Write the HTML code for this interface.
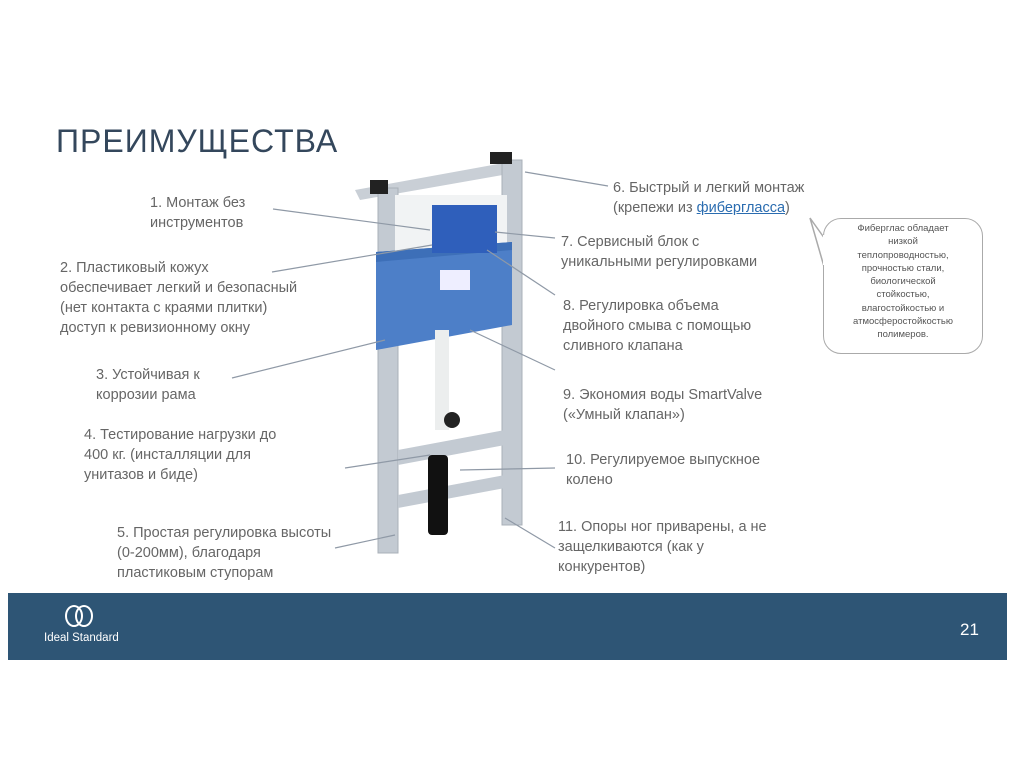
<!DOCTYPE html>
<html><head><meta charset="utf-8"><style>
body{margin:0;width:1015px;height:761px;background:#fff;position:relative;overflow:hidden;font-family:"Liberation Sans","Noto Sans CJK SC",sans-serif;}
.t{position:absolute;color:#666;font-size:14.5px;line-height:20px;white-space:nowrap;}
.bub{position:absolute;left:823px;top:218px;width:160px;height:136px;border:1.5px solid #aaa;border-radius:18px;box-sizing:border-box;font-size:9.5px;line-height:13.3px;color:#555;text-align:center;padding-top:3px;background:#fff;}
</style></head><body>
<div style="position:absolute;left:56px;top:123px;font-size:32px;color:#34475c;letter-spacing:1px;">ПРЕИМУЩЕСТВА</div>

<svg width="1015" height="761" style="position:absolute;left:0;top:0">
<g>
<polygon points="355,190 520,160 520,172 360,200" fill="#c9cfd6"/>
<rect x="378" y="188" width="20" height="365" fill="#c3cad2" stroke="#a9b0b8"/>
<rect x="502" y="160" width="20" height="365" fill="#c3cad2" stroke="#a9b0b8"/>
<rect x="395" y="195" width="112" height="60" fill="#f1f3f4"/>
<polygon points="376,252 512,242 512,325 376,350" fill="#4d7fc8"/>
<polygon points="376,252 512,242 512,250 376,262" fill="#3d6fb8"/>
<rect x="432" y="205" width="65" height="48" fill="#2f5fbb"/>
<rect x="440" y="270" width="30" height="20" fill="#eef"/>
<rect x="435" y="330" width="14" height="100" fill="#eceeee"/>
<polygon points="398,450 505,430 505,445 398,465" fill="#c3cad2"/>
<polygon points="398,495 505,475 505,488 398,508" fill="#c3cad2"/>
<rect x="428" y="455" width="20" height="80" rx="4" fill="#111"/>
<circle cx="452" cy="420" r="8" fill="#222"/>
<rect x="370" y="180" width="18" height="14" fill="#222"/>
<rect x="490" y="152" width="22" height="12" fill="#222"/>
</g>
<g stroke="#8f99a6" stroke-width="1.2" fill="none">
<line x1="273" y1="209" x2="430" y2="230"/>
<line x1="272" y1="272" x2="432" y2="245"/>
<line x1="232" y1="378" x2="385" y2="340"/>
<line x1="345" y1="468" x2="430" y2="455"/>
<line x1="335" y1="548" x2="395" y2="535"/>
<line x1="525" y1="172" x2="608" y2="186"/>
<line x1="495" y1="232" x2="555" y2="238"/>
<line x1="487" y1="250" x2="555" y2="295"/>
<line x1="470" y1="330" x2="555" y2="370"/>
<line x1="460" y1="470" x2="555" y2="468"/>
<line x1="505" y1="518" x2="555" y2="548"/>
</g>
<path d="M810,218 L830,246 L825,270 Z" fill="#fff" stroke="#aaa" stroke-width="1.5"/>
</svg>
<div class="bub">Фиберглас обладает<br>низкой<br>теплопроводностью,<br>прочностью стали,<br>биологической<br>стойкостью,<br>влагостойкостью и<br>атмосферостойкостью<br>полимеров.</div>
<div style="position:absolute;left:823px;top:235px;width:3px;height:30px;background:#fff"></div>

<div class="t" style="left:150px;top:193px">1. Монтаж без<br>инструментов</div>
<div class="t" style="left:60px;top:258px">2. Пластиковый кожух<br>обеспечивает легкий и безопасный<br>(нет контакта с краями плитки)<br>доступ к ревизионному окну</div>
<div class="t" style="left:96px;top:365px">3. Устойчивая к<br>коррозии рама</div>
<div class="t" style="left:84px;top:425px">4. Тестирование нагрузки до<br>400 кг. (инсталляции для<br>унитазов и биде)</div>
<div class="t" style="left:117px;top:523px">5. Простая регулировка высоты<br>(0-200мм), благодаря<br>пластиковым ступорам</div>
<div class="t" style="left:613px;top:178px">6. Быстрый и легкий монтаж<br>(крепежи из <span style="color:#2a6cb0;text-decoration:underline">фиберглacса</span>)</div>
<div class="t" style="left:561px;top:232px">7. Сервисный блок с<br>уникальными регулировками</div>
<div class="t" style="left:563px;top:296px">8. Регулировка объема<br>двойного смыва с помощью<br>сливного клапана</div>
<div class="t" style="left:563px;top:385px">9. Экономия воды SmartValve<br>(«Умный клапан»)</div>
<div class="t" style="left:566px;top:450px">10. Регулируемое выпускное<br>колено</div>
<div class="t" style="left:558px;top:517px">11. Опоры ног приварены, а не<br>защелкиваются (как у<br>конкурентов)</div>

<div style="position:absolute;left:8px;top:593px;width:999px;height:67px;background:#2e5575"></div>
<div style="position:absolute;left:64px;top:604px;width:30px;height:24px">
<svg width="30" height="24"><ellipse cx="10" cy="12" rx="8" ry="10" fill="none" stroke="#fff" stroke-width="2"/><ellipse cx="20" cy="12" rx="8" ry="10" fill="none" stroke="#fff" stroke-width="2"/></svg></div>
<div style="position:absolute;left:44px;top:632px;color:#fff;font-size:11.5px">Ideal Standard</div>
<div style="position:absolute;left:960px;top:620px;color:#fff;font-size:17px">21</div>
</body></html>
